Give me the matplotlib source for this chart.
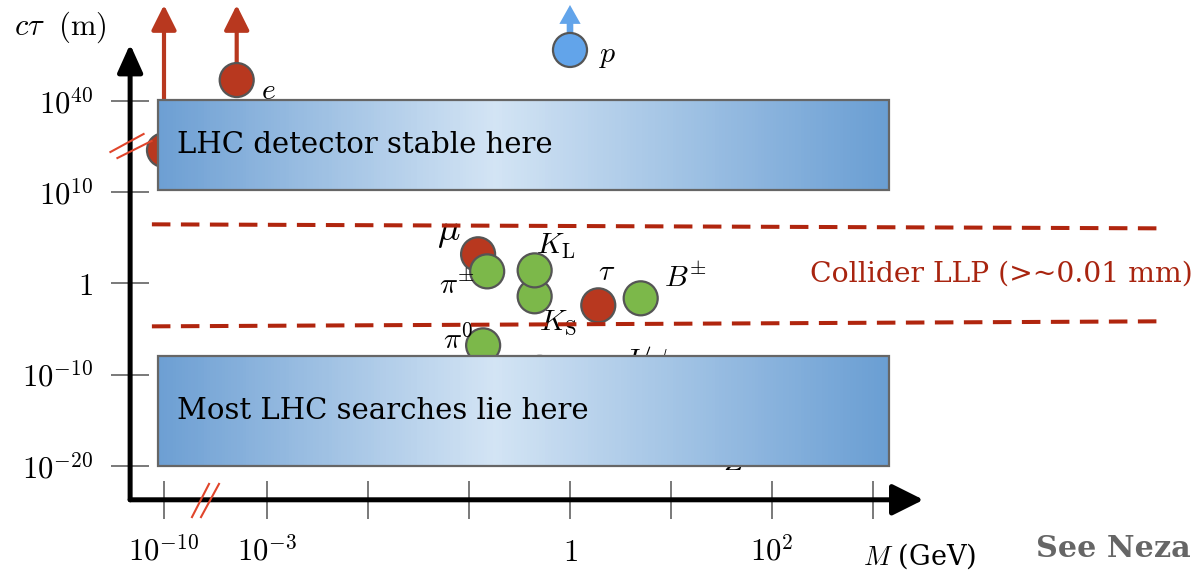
import numpy as np
import matplotlib.pyplot as plt
from matplotlib.colors import LinearSegmentedColormap
from matplotlib.patches import Rectangle
from matplotlib.path import Path

plt.rcParams['mathtext.fontset'] = 'cm'
plt.rcParams['font.family'] = ['DejaVu Serif']

# particles: log10(M / GeV) and log10(c tau / m)
names = ['nu', 'e', 'mu', 'tau', 'pi_pm', 'pi0', 'K_S', 'K_L', 'B_pm',
         'eta', 'J_psi', 'Z', 'p']
labels = [None, r'$e$', r'$\mu$', r'$\tau$', r'$\pi^{\pm}$', r'$\pi^0$',
          r'$K_{\rm S}$', r'$K_{\rm L}$', r'$B^{\pm}$', None, r'$J/\psi$',
          r'$Z$', r'$p$']
log_mass = [-10.0, -3.3, -0.91, 0.28, -0.82, -0.86, -0.35, -0.35, 0.70,
            -0.30, 0.49, 1.96, 0.0]
log_ctau = [23.8, 46.9, 3.18, -2.41, 1.31, -6.79, -1.42, 1.42, -1.64,
            -9.8, -11.7, -16.5, 56.8]
kind = ['lepton', 'lepton', 'lepton', 'lepton', 'meson', 'meson', 'meson',
        'meson', 'meson', 'meson', 'meson', 'boson', 'baryon']
stable = ['nu', 'e', 'p']

# collider long-lived band, drawn slightly tilted
llp_x = [-11.5, 5.84]
llp_upper = [6.46, 6.02]
llp_lower = [-4.71, -4.16]

# shaded regions: (M lo, M hi, ctau lo, ctau hi)
lhc_stable = (-10.75, 3.16, 10.5, 40.3)
lhc_search = (-10.75, 3.16, -20.0, -8.0)

xtick_vals = [-10, -3, -2, -1, 0, 1, 2, 3]
xtick_text = [r'$10^{-10}$', r'$10^{-3}$', '', '', r'$1$', '', r'$10^2$', '']
ytick_vals = [-20, -10, 0, 10, 40]
ytick_text = [r'$10^{-20}$', r'$10^{-10}$', r'$1$', r'$10^{10}$', r'$10^{40}$']

colors = {'lepton': '#b8381f', 'meson': '#7cb84a', 'boson': '#7cb84a',
          'baryon': '#62a4ea'}
label_offset = {'e': (23, -8), 'mu': (-21, 16), 'tau': (6, 24),
                'pi_pm': (-22, -10), 'pi0': (-18, 4), 'K_S': (17, -19),
                'K_L': (15, 17), 'B_pm': (32, 15), 'J_psi': (19, 21),
                'Z': (-24, -20), 'p': (27, -4)}

# broken axes: piecewise linear maps onto figure pixels
X_KNOTS = [-40, -10, -3.5, 10]
X_PIX = [-78, 164, 216.5, 1580]
Y_KNOTS = [-80, 10, 40, 120]
Y_PIX = [-440, 382, 473, 716]


def x_fwd(v):
    return np.interp(v, X_KNOTS, X_PIX)


def x_inv(p):
    return np.interp(p, X_PIX, X_KNOTS)


def y_fwd(v):
    return np.interp(v, Y_KNOTS, Y_PIX)


def y_inv(p):
    return np.interp(p, Y_PIX, Y_KNOTS)


fig = plt.figure(figsize=(11.98, 5.74), dpi=100)
ax = fig.add_axes([0, 0, 1, 1])
ax.set_xscale('function', functions=(x_fwd, x_inv))
ax.set_yscale('function', functions=(y_fwd, y_inv))
ax.set_xlim(x_inv(0), x_inv(1198))
ax.set_ylim(y_inv(0), y_inv(574))
for s in ax.spines.values():
    s.set_visible(False)

x0, y0 = -14.2, -23.7
ax.spines['left'].set_position(('data', x0))
ax.spines['bottom'].set_position(('data', y0))
ax.set_xticks(xtick_vals, xtick_text)
ax.set_yticks(ytick_vals, ytick_text)
ax.minorticks_off()
ax.tick_params(direction='inout', length=27, width=1.3, color='#6e6e6e',
               pad=13, labelsize=22)

# axes with arrow heads
ax.annotate('', xy=(3.5, y0), xytext=(x0, y0), zorder=2,
            arrowprops=dict(arrowstyle='-|>,head_length=1.0,head_width=0.5',
                            mutation_scale=19, lw=3.6, color='black',
                            shrinkA=0, shrinkB=0))
ax.annotate('', xy=(x0, 58.7), xytext=(x0, y0), zorder=2,
            arrowprops=dict(arrowstyle='-|>,head_length=1.0,head_width=0.45',
                            mutation_scale=17, lw=3.6, color='black',
                            shrinkA=0, shrinkB=0))

# break marks
xbreak = Path([(-14, -17.5), (4, 17.5), (-5, -17.5), (14, 17.5)],
              [Path.MOVETO, Path.LINETO, Path.MOVETO, Path.LINETO])
ybreak = Path([(-21, -6), (14, 13), (-14, -12), (22, 6)],
              [Path.MOVETO, Path.LINETO, Path.MOVETO, Path.LINETO])
ax.plot(-4.93, y0, marker=xbreak, ms=25.2, mfc='none', mec='#e0452b',
        mew=1.5, zorder=6, clip_on=False)
ax.plot(x0, 25.2, marker=ybreak, ms=31.7, mfc='none', mec='#e0452b',
        mew=1.5, zorder=6, clip_on=False)

# stable particles point off the top
top = y_inv(569)
for n, m, c, k in zip(names, log_mass, log_ctau, kind):
    if n in stable:
        if k == 'baryon':
            style = 'simple,head_length=0.8,head_width=0.9,tail_width=0.28'
            ax.annotate('', xy=(m, top), xytext=(m, c), zorder=2,
                        arrowprops=dict(arrowstyle=style, mutation_scale=17,
                                        color=colors[k], lw=0,
                                        shrinkA=0, shrinkB=0))
        else:
            ax.annotate('', xy=(m, top), xytext=(m, c), zorder=2,
                        arrowprops=dict(arrowstyle='-|>,head_length=0.8,head_width=0.4',
                                        mutation_scale=19, lw=3, color=colors[k],
                                        shrinkA=0, shrinkB=0))

ax.scatter(log_mass, log_ctau, s=600, c=[colors[k] for k in kind],
           edgecolors='#555555', linewidths=1.6, zorder=3)

for n, lab, m, c in zip(names, labels, log_mass, log_ctau):
    if lab is None:
        continue
    size = 27 if n == 'mu' else 21.5
    ax.annotate(lab, (m, c), xytext=label_offset[n], textcoords='offset points',
                ha='center', va='center', fontsize=size, zorder=3)

# long-lived window
ax.plot(llp_x, llp_upper, color='#b0250e', lw=2.9, ls=(0, (4.6, 2.6)), zorder=5)
ax.plot(llp_x, llp_lower, color='#b0250e', lw=2.9, ls=(0, (4.6, 2.6)), zorder=5)
ax.text(2.38, 0.99, 'Collider LLP (>~0.01 mm)', color='#a8240f', fontsize=20.3,
        ha='left', va='center', zorder=5)

cmap = LinearSegmentedColormap.from_list(
    'box', [(0, '#6d9fd3'), (0.46, '#d3e4f4'), (1, '#6a9ed3')])
for (ml, mh, cl, ch), txt in zip([lhc_stable, lhc_search],
                                 ['LHC detector stable here',
                                  'Most LHC searches lie here']):
    edges = x_inv(np.linspace(x_fwd(ml), x_fwd(mh), 241))
    shade = np.linspace(0, 1, 240)[None, :]
    ax.pcolormesh(edges, [cl, ch], shade, cmap=cmap, shading='flat',
                  zorder=4, antialiased=False)
    ax.add_patch(Rectangle((ml, cl), mh - ml, ch - cl, fill=False,
                           ec='#666666', lw=1.6, zorder=4.5))
    ax.annotate(txt, (ml, (cl + ch) / 2), xytext=(14, 0),
                textcoords='offset points', ha='left', va='center',
                fontsize=21, zorder=5)

fig.text(0.012, 0.952, r'$c\tau\ \ (\mathrm{m})$', fontsize=22, ha='left',
         va='center')
fig.text(0.72, 0.031, r'$M$ (GeV)', fontsize=19.5, ha='left', va='center')
fig.text(0.865, 0.045, 'See Neza', fontsize=21.8, fontweight='bold',
         color='#666666', ha='left', va='center')

fig.savefig('out.png', dpi=100)
